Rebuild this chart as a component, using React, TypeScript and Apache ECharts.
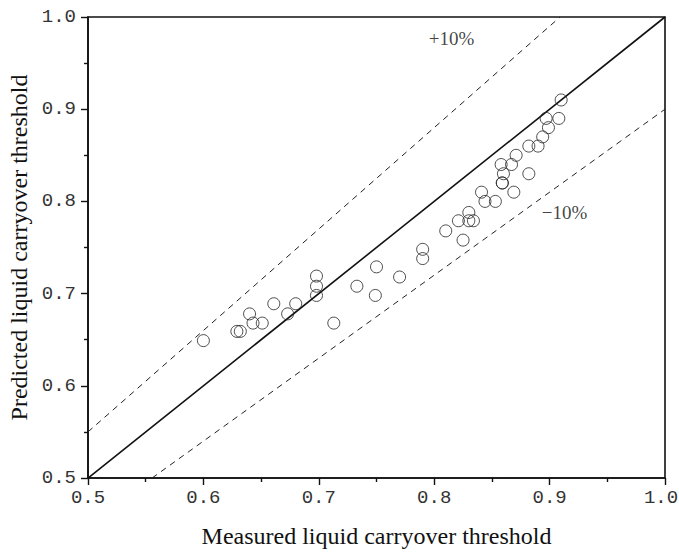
import React, { useEffect, useRef } from "react";
import * as echarts from "echarts";

// Measured vs predicted liquid carryover threshold
const measured = [
  0.600, 0.629, 0.632, 0.640, 0.643, 0.651, 0.661, 0.673, 0.680,
  0.698, 0.698, 0.698, 0.713, 0.733, 0.749, 0.750, 0.770, 0.790, 0.790,
  0.810, 0.821, 0.825, 0.830, 0.830, 0.834, 0.841, 0.844, 0.853,
  0.859, 0.859, 0.860, 0.869, 0.858, 0.867, 0.882, 0.871, 0.882, 0.890,
  0.894, 0.899, 0.897, 0.908, 0.910,
];
const predicted = [
  0.649, 0.659, 0.659, 0.678, 0.668, 0.668, 0.689, 0.678, 0.689,
  0.719, 0.708, 0.698, 0.668, 0.708, 0.698, 0.729, 0.718, 0.748, 0.738,
  0.768, 0.779, 0.758, 0.788, 0.779, 0.779, 0.810, 0.800, 0.800,
  0.820, 0.820, 0.830, 0.810, 0.840, 0.840, 0.830, 0.850, 0.860, 0.860,
  0.870, 0.880, 0.890, 0.890, 0.910,
];

// Reference lines: perfect agreement and the ±10% band
const perfectLine = [[0.5, 0.5], [1.0, 1.0]];
const upperBand = [[0.5, 0.55], [1.0 / 1.1, 1.0]];
const lowerBand = [[0.5 / 0.9, 0.5], [1.0, 0.9]];

const bandLabels = [
  { text: "+10%", at: [0.815, 0.977] },
  { text: "\u221210%", at: [0.913, 0.788] },
];

const axisTicks = [0.5, 0.6, 0.7, 0.8, 0.9, 1.0];
const axisMax = axisTicks[axisTicks.length - 1];

const serif = "Liberation Serif";
const tickFont = "Liberation Mono";

export default function App() {
  const ref = useRef<HTMLDivElement>(null);

  useEffect(() => {
    if (!ref.current) return;
    const chart = echarts.init(ref.current, undefined, { renderer: "svg" });

    const axisCommon = {
      type: "value" as const,
      min: axisTicks[0],
      max: axisMax,
      interval: 0.1,
      splitLine: { show: false },
      axisLine: { show: true, onZero: false, lineStyle: { color: "#111", width: 1.6 } },
      axisTick: { show: true, inside: false, length: 7, lineStyle: { color: "#111", width: 1.4 } },
      minorTick: { show: true, splitNumber: 2, length: 4, lineStyle: { color: "#111", width: 1.4 } },
      axisLabel: {
        color: "#333",
        fontFamily: tickFont,
        fontSize: 19,
        formatter: (v: number) => v.toFixed(1),
      },
      nameLocation: "middle" as const,
      nameTextStyle: { color: "#111", fontFamily: serif, fontSize: 24 },
    };

    chart.setOption({
      animation: false,
      backgroundColor: "#fff",
      grid: {
        left: 88,
        right: 14,
        top: 17,
        bottom: 74,
        outerBoundsMode: "none",
        containLabel: false,
        show: true,
        borderColor: "#111",
        borderWidth: 1.6,
      },
      xAxis: {
        ...axisCommon,
        name: "Measured liquid carryover threshold",
        nameGap: 46,
        axisLabel: {
          ...axisCommon.axisLabel,
          margin: 10,
          // keep the last label inside the right edge of the page
          formatter: (v: number) =>
            Math.abs(v - axisMax) < 1e-9 ? `{last|${v.toFixed(1)}}` : v.toFixed(1),
          rich: {
            last: {
              color: "#333",
              fontFamily: tickFont,
              fontSize: 19,
              padding: [0, 8, 0, 0],
            },
          },
        },
      },
      yAxis: {
        ...axisCommon,
        name: "Predicted liquid carryover threshold",
        nameGap: 52,
        axisLabel: { ...axisCommon.axisLabel, margin: 12 },
      },
      series: [
        {
          type: "line",
          data: perfectLine,
          symbol: "none",
          lineStyle: { color: "#111", width: 1.6 },
          z: 2,
        },
        {
          type: "line",
          data: upperBand,
          symbol: "none",
          lineStyle: { color: "#222", width: 1, type: [6, 5] },
          z: 2,
        },
        {
          type: "line",
          data: lowerBand,
          symbol: "none",
          lineStyle: { color: "#222", width: 1, type: [6, 5] },
          z: 2,
        },
        {
          type: "scatter",
          data: measured.map((m, i) => [m, predicted[i]]),
          symbol: "circle",
          symbolSize: 12,
          itemStyle: { color: "rgba(255,255,255,0)", borderColor: "#222", borderWidth: 1 },
          z: 3,
        },
        {
          type: "scatter",
          data: bandLabels.map((b) => ({ value: b.at, name: b.text })),
          symbolSize: 0,
          silent: true,
          label: {
            show: true,
            position: "inside",
            formatter: (p: any) => p.name,
            color: "#111",
            fontFamily: serif,
            fontSize: 19,
          },
          z: 4,
        },
      ],
    });

    return () => chart.dispose();
  }, []);

  return (
    <div
      ref={ref}
      style={{ position: "absolute", left: 0, top: 0, width: 679, height: 552 }}
    />
  );
}
